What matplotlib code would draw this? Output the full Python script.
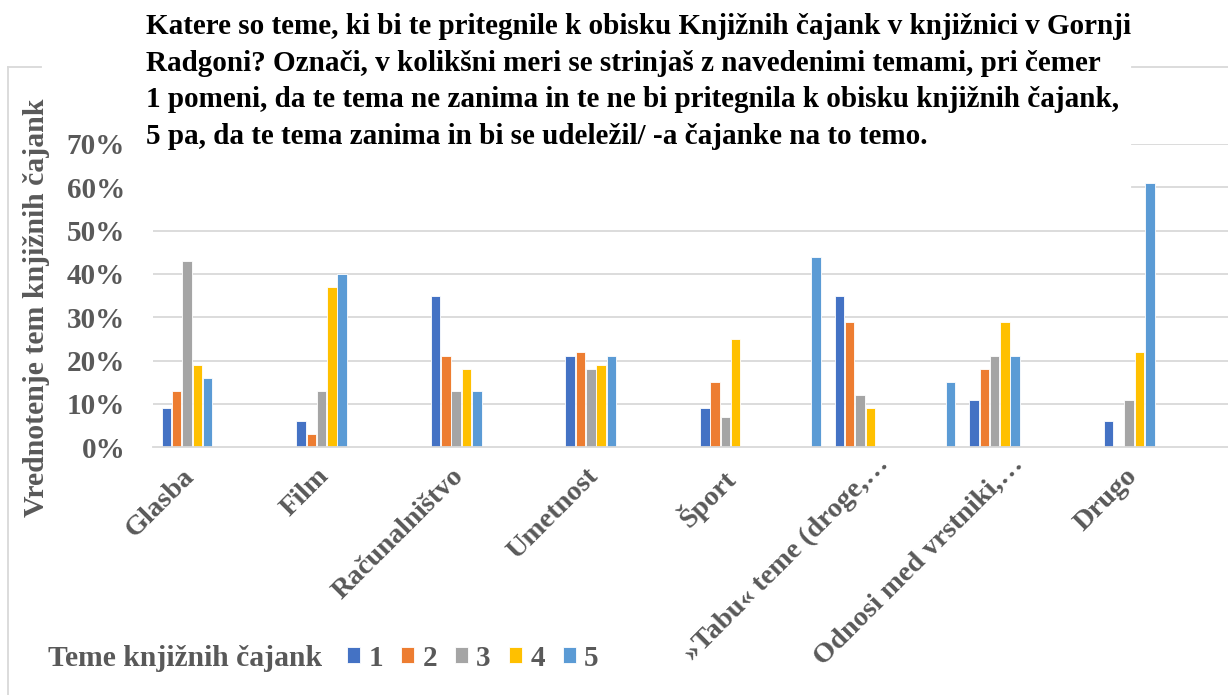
import numpy as np
import matplotlib
matplotlib.use("Agg")
import matplotlib.pyplot as plt
from matplotlib.lines import Line2D
from matplotlib.transforms import ScaledTranslation

# Data (percent)
categories = ["Glasba", "Film", "Računalništvo", "Umetnost", "Šport",
              "»Tabu« teme (droge,…", "Odnosi med vrstniki,…", "Drugo"]
series_names = ["1", "2", "3", "4", "5"]
s1 = [9, 6, 35, 21, 9, 35, 11, 6]
s2 = [13, 3, 21, 22, 15, 29, 18, 0]
s3 = [43, 13, 13, 18, 7, 12, 21, 11]
s4 = [19, 37, 18, 19, 25, 9, 29, 22]
s5 = [16, 40, 13, 21, 0, 0, 21, 61]
# extra series-5 bars that sit just left of these categories
extra_cats = [5, 6]
extra_vals = [44, 15]
y_ticks = [0, 10, 20, 30, 40, 50, 60, 70]

colors = ["#4472C4", "#ED7D31", "#A5A5A5", "#FFC000", "#5B9BD5"]
gray = "#595959"
grid_c = "#D9D9D9"

plt.rcParams['font.family'] = ['Liberation Serif', 'DejaVu Serif']
plt.rcParams['font.weight'] = 'bold'

W, H = 1228, 695
fig = plt.figure(figsize=(W / 100, H / 100), dpi=100)
tr = fig.transFigure

# axes placed in pixel terms
left_px, right_px, top_px, base_px = 153, 1228, 144, 447.3
ax = fig.add_axes([left_px / W, (H - base_px) / H,
                   (right_px - left_px) / W, (base_px - top_px) / H])

cat_w = 134.6
first_c = 187
ax.set_xlim(-(first_c - left_px) / cat_w, (right_px - first_c) / cat_w)
ax.set_ylim(0, 70)

x = np.arange(len(categories))
slot = 10.3 / cat_w
data = [s1, s2, s3, s4, s5]
for i, (vals, col, name) in enumerate(zip(data, colors, series_names)):
    ax.bar(x + (i - 2) * slot, vals, width=slot * 0.92,
           color=col, edgecolor="white", linewidth=0.6, label=name, zorder=2)
ax.bar(np.array(extra_cats) - 44 / cat_w, extra_vals,
       width=slot * 0.92, color=colors[4], edgecolor="white", linewidth=0.6, zorder=2)

# gridlines; the upper two are hidden behind the title box except at the right
hidden_to = (1132 - left_px) / (right_px - left_px)
for v in y_ticks[1:]:
    ax.axhline(v, xmin=hidden_to if v > 50 else 0, xmax=1, color=grid_c,
               linewidth=1.3, zorder=0.5)

ax.set_yticks(y_ticks)
ax.set_yticklabels([f"{v}%" for v in y_ticks])
ax.set_xticks(x)
ax.set_xticklabels(categories, rotation=45, ha="right", va="top",
                   rotation_mode="anchor")
ax.tick_params(axis="y", length=0, pad=20, labelsize=21, labelcolor=gray)
ax.tick_params(axis="x", length=0, pad=14, labelsize=20.5, labelcolor=gray)
# nudge the rotated labels (truncated ones sit further along their direction)
for lab in ax.get_xticklabels():
    dx, dy = -5, 3
    if lab.get_text().endswith("…"):
        dx, dy = 16, 15
    lab.set_transform(lab.get_transform() +
                      ScaledTranslation(dx / 100, dy / 100, fig.dpi_scale_trans))
for sp in ["top", "right", "left"]:
    ax.spines[sp].set_visible(False)
ax.spines["bottom"].set_color(grid_c)
ax.spines["bottom"].set_linewidth(1.3)

# chart border (partly hidden by the title)
for xs, ys in [([8, 8], [67, 695]), ([8, 41], [67, 67]), ([1132, 1228], [67, 67])]:
    fig.add_artist(Line2D(np.array(xs) / W, 1 - np.array(ys) / H,
                          transform=tr, color=grid_c, linewidth=1.3))

title = ("Katere so teme, ki bi te pritegnile k obisku Knjižnih čajank v knjižnici v Gornji\n"
         "Radgoni? Označi, v kolikšni meri se strinjaš z navedenimi temami, pri čemer\n"
         "1 pomeni, da te tema ne zanima in te ne bi pritegnila k obisku knjižnih čajank,\n"
         "5 pa, da te tema zanima in bi se udeležil/ -a čajanke na to temo.")
fig.text(146 / W, 1 - 13 / H, title, ha="left", va="top", fontsize=21,
         fontweight="bold", color="black", linespacing=1.46, zorder=3)

fig.text(37 / W, 1 - 308 / H, "Vrednotenje tem knjižnih čajank", rotation=90,
         ha="center", va="center", fontsize=21.4, fontweight="bold", color=gray)

# legend
fig.text(48 / W, 1 - 658 / H, "Teme knjižnih čajank", ha="left", va="center",
         fontsize=21.3, fontweight="bold", color=gray)
leg = fig.legend(loc="center left", bbox_to_anchor=(347 / W, 1 - 658 / H),
                 ncol=5, frameon=False, fontsize=21, handlelength=0.45,
                 handleheight=0.45, handletextpad=0.28, columnspacing=0.62,
                 borderpad=0, borderaxespad=0, labelcolor=gray)

fig.savefig("out.png", dpi=100, facecolor="white")
